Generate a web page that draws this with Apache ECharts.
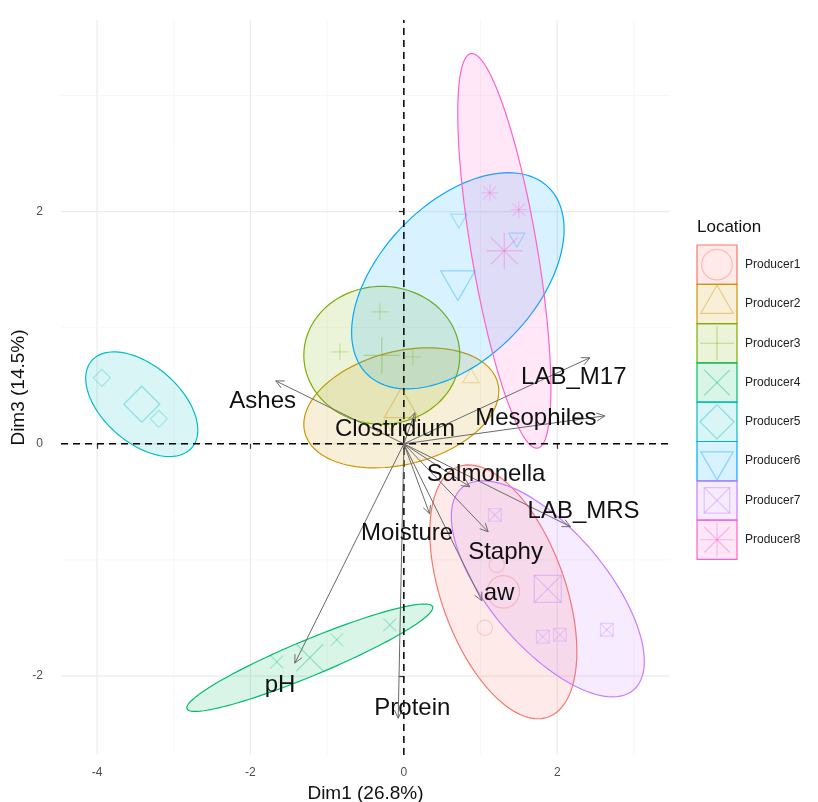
<!DOCTYPE html>
<html><head><meta charset="utf-8">
<script src="https://cdn.jsdelivr.net/npm/echarts@6/dist/echarts.min.js"></script>
<style>html,body{margin:0;padding:0;background:#fff}#c{width:818px;height:802px}</style>
</head><body><div id="c"></div>
<script>
// ---- data ----
const producers = ['Producer1','Producer2','Producer3','Producer4','Producer5','Producer6','Producer7','Producer8'];
const colors = ['#F8766D','#CD9600','#7CAE00','#00BE67','#00BFC4','#00A9FF','#C77CFF','#FF61CC'];
const shapes = ['circle','triangle','plus','cross','diamond','triangleDown','squareCross','asterisk'];
// group means (also ellipse centres)
const meanX = [1.297, -0.033, -0.287, -1.226, -3.417, 0.704, 1.877, 1.310];
const meanY = [-1.275, 0.310, 0.762, -1.842, 0.341, 1.404, -1.249, 1.662];
// confidence-ellipse conjugate semi-axes (data units)
const ellUX = [0.584, 1.258, 1.017, 1.601, 0.653, 1.179, 1.116, 0.435];
const ellUY = [-1.078, 0.213, 0.000, 0.440, -0.375, 0.807, -0.872, -1.699];
const ellVX = [-0.760, 0.183, 0.000, 0.090, -0.328, 0.727, -0.581, -0.424];
const ellVY = [-0.180, -0.471, -0.594, -0.143, -0.250, -0.464, -0.324, -0.047];
// individuals
const indX = [[1.056,1.212],[0.874,-0.248],[-0.313,-0.834,0.117],[-1.656,-0.874,-0.183],[-3.937,-3.194],[0.717,1.473],[1.186,1.812,2.034,2.647],[1.121,1.499]];
const indY = [[-1.585,-1.042],[0.568,0.121],[1.137,0.792,0.749],[-1.878,-1.688,-1.559],[0.568,0.215],[1.938,1.774],[-0.612,-1.662,-1.645,-1.602],[2.162,2.016]];
// variables
const varNames = ['Ashes','LAB_M17','Mesophiles','Clostridium','Salmonella','LAB_MRS','Staphy','Moisture','aw','pH','Protein'];
const varX = [-1.670, 2.425, 2.621, 0.143, 0.860, 2.173, 1.099, 0.336, 1.017, -1.421, -0.074];
const varY = [0.542, 0.741, 0.241, 0.267, -0.370, -0.714, -0.758, -0.603, -1.352, -1.889, -2.363];
const labX = [-1.841, 2.216, 1.721, -0.116, 1.072, 2.343, 1.326, 0.042, 1.241, -1.614, 0.111];
const labY = [0.366, 0.573, 0.220, 0.123, -0.264, -0.581, -0.934, -0.771, -1.287, -2.079, -2.277];
const xTicks = [-4,-2,0,2];
const yTicks = [-2,0,2];
const xGrid = [-4,-3,-2,-1,0,1,2,3];
const yGrid = [-2,-1,0,1,2,3];

// ---- helpers ----
const xMin=-4.47, xMax=3.47, yMin=-2.68, yMax=3.65;
const FONT = '"Liberation Sans", Arial, sans-serif';
function hexA(h,a){const n=parseInt(h.slice(1),16);return `rgba(${n>>16},${(n>>8)&255},${n&255},${a})`;}
function shapeEls(kind,x,y,s,color,op,lw){
  const r=s/2; const st={stroke:color,fill:'none',lineWidth:lw,opacity:op};
  const L=(x1,y1,x2,y2)=>({type:'line',shape:{x1,y1,x2,y2},style:st});
  const R=r*1.1, d=r*0.75;
  switch(kind){
    case 'circle': return [{type:'circle',shape:{cx:x,cy:y,r:r*0.9},style:st}];
    case 'triangle': return [{type:'polygon',shape:{points:[[x,y-R],[x+0.866*R,y+0.5*R],[x-0.866*R,y+0.5*R]]},style:st}];
    case 'triangleDown': return [{type:'polygon',shape:{points:[[x,y+R],[x+0.866*R,y-0.5*R],[x-0.866*R,y-0.5*R]]},style:st}];
    case 'plus': return [L(x-r,y,x+r,y),L(x,y-r,x,y+r)];
    case 'cross': return [L(x-d,y-d,x+d,y+d),L(x-d,y+d,x+d,y-d)];
    case 'diamond': return [{type:'polygon',shape:{points:[[x,y-r],[x+r,y],[x,y+r],[x-r,y]]},style:st}];
    case 'squareCross': return [{type:'rect',shape:{x:x-d,y:y-d,width:2*d,height:2*d},style:st},L(x-d,y-d,x+d,y+d),L(x-d,y+d,x+d,y-d)];
    case 'asterisk': return [L(x-r,y,x+r,y),L(x,y-r,x,y+r),L(x-d,y-d,x+d,y+d),L(x-d,y+d,x+d,y-d)];
  }
  return [];
}

const series = [];
// gridlines
const gridData = xGrid.map(v=>[v,0,0]).concat(yGrid.map(v=>[0,v,1]));
series.push({type:'custom',silent:true,z:0,data:gridData,
  renderItem:(p,api)=>{
    const i=p.dataIndex, g=gridData[i];
    const v = g[2]===0? g[0] : g[1];
    const major = (Math.abs(v)%2)===0;
    const a = g[2]===0? api.coord([v,yMin]) : api.coord([xMin,v]);
    const b = g[2]===0? api.coord([v,yMax]) : api.coord([xMax,v]);
    return {type:'line',shape:{x1:a[0],y1:a[1],x2:b[0],y2:b[1]},style:{stroke:major?'#EBEBEB':'#F5F5F5',lineWidth:major?1.2:0.8}};
  }});
// ellipses
series.push({type:'custom',silent:true,z:1,data:producers.map((p,i)=>[meanX[i],meanY[i]]),
  renderItem:(p,api)=>{
    const i=p.dataIndex, pts=[];
    for(let k=0;k<120;k++){const t=2*Math.PI*k/120;
      pts.push(api.coord([meanX[i]+ellUX[i]*Math.cos(t)+ellVX[i]*Math.sin(t), meanY[i]+ellUY[i]*Math.cos(t)+ellVY[i]*Math.sin(t)]));}
    return {type:'polygon',shape:{points:pts},style:{fill:hexA(colors[i],0.15),stroke:colors[i],lineWidth:1.2}};
  }});
// zero lines
series.push({type:'custom',silent:true,z:2,data:[[0,0,0],[0,0,1]],
  renderItem:(p,api)=>{
    const a = p.dataIndex===0? api.coord([0,yMin]) : api.coord([xMin,0]);
    const b = p.dataIndex===0? api.coord([0,yMax]) : api.coord([xMax,0]);
    return {type:'line',shape:{x1:a[0],y1:a[1],x2:b[0],y2:b[1]},style:{stroke:'#000',lineWidth:1.5,lineDash:[7,5]}};
  }});
// points
producers.forEach((name,i)=>{
  const data = indX[i].map((x,k)=>[x,indY[i][k],0]).concat([[meanX[i],meanY[i],1]]);
  series.push({type:'custom',name,silent:true,z:3,data,
    renderItem:(p,api)=>{
      const d=data[p.dataIndex]; const c=api.coord([d[0],d[1]]);
      return {type:'group',children:shapeEls(shapes[i],c[0],c[1],d[2]?36:17,colors[i],d[2]?0.38:0.28,1.2)};
    }});
});
// arrows
series.push({type:'custom',silent:true,z:4,data:varNames.map((n,i)=>[varX[i],varY[i]]),
  renderItem:(p,api)=>{
    const i=p.dataIndex; const o=api.coord([0,0]); const t=api.coord([varX[i],varY[i]]);
    const ang=Math.atan2(t[1]-o[1],t[0]-o[0]); const hl=9, sp=0.45;
    const h1=[t[0]-hl*Math.cos(ang-sp),t[1]-hl*Math.sin(ang-sp)];
    const h2=[t[0]-hl*Math.cos(ang+sp),t[1]-hl*Math.sin(ang+sp)];
    const st={stroke:'#6a6a6a',lineWidth:1,fill:'none'};
    return {type:'group',children:[
      {type:'line',shape:{x1:o[0],y1:o[1],x2:t[0],y2:t[1]},style:st},
      {type:'polyline',shape:{points:[h1,t,h2]},style:st}]};
  }});
// labels
series.push({type:'custom',silent:true,z:5,data:varNames.map((n,i)=>[labX[i],labY[i]]),
  renderItem:(p,api)=>{
    const i=p.dataIndex; const c=api.coord([labX[i],labY[i]]);
    return {type:'text',style:{text:varNames[i],x:c[0],y:c[1],align:'center',verticalAlign:'middle',textAlign:'center',textVerticalAlign:'middle',font:'24px '+FONT,fill:'#111'}};
  }});

// legend (graphic)
const gfx=[{type:'text',left:697,top:219,style:{text:'Location',font:'17px '+FONT,fill:'#111'}}];
const kx=697, ky=245, kw=40, kh=39.3;
producers.forEach((n,i)=>{
  const y0=ky+i*kh, cx=kx+kw/2, cy=y0+kh/2;
  gfx.push({type:'rect',shape:{x:kx,y:y0,width:kw,height:kh},style:{fill:hexA(colors[i],0.15),stroke:colors[i],lineWidth:1.2}});
  shapeEls(shapes[i],cx,cy,34,colors[i],0.4,1.2).forEach(e=>gfx.push(e));
  gfx.push({type:'text',x:745,y:cy,style:{text:n,font:'12px '+FONT,fill:'#222',verticalAlign:'middle',textVerticalAlign:'middle'}});
});

const chart = echarts.init(document.getElementById('c'),null,{renderer:'canvas'});
chart.setOption({
  backgroundColor:'#fff',
  animation:false,
  grid:{left:61,right:148,top:20,bottom:47,containLabel:false,outerBoundsMode:'none'},
  xAxis:{type:'value',min:xMin,max:xMax,axisLine:{show:false},splitLine:{show:false},
    axisTick:{show:true,customValues:xTicks,length:5,lineStyle:{color:'#333',width:1.2}},
    axisLabel:{customValues:xTicks,color:'#4D4D4D',fontSize:12,margin:12,fontFamily:FONT},
    nameMoveOverlap:false,
    name:'Dim1 (26.8%)',nameLocation:'middle',nameGap:29,nameTextStyle:{fontSize:19,color:'#111',fontFamily:FONT}},
  yAxis:{type:'value',min:yMin,max:yMax,axisLine:{show:false},splitLine:{show:false},
    axisTick:{show:true,customValues:yTicks,length:5,lineStyle:{color:'#333',width:1.2}},
    axisLabel:{customValues:yTicks,color:'#4D4D4D',fontSize:12,margin:18,fontFamily:FONT},
    nameMoveOverlap:false,
    name:'Dim3 (14.5%)',nameLocation:'middle',nameGap:33,nameTextStyle:{fontSize:19,color:'#111',fontFamily:FONT}},
  series,
  graphic:gfx
});
</script></body></html>
